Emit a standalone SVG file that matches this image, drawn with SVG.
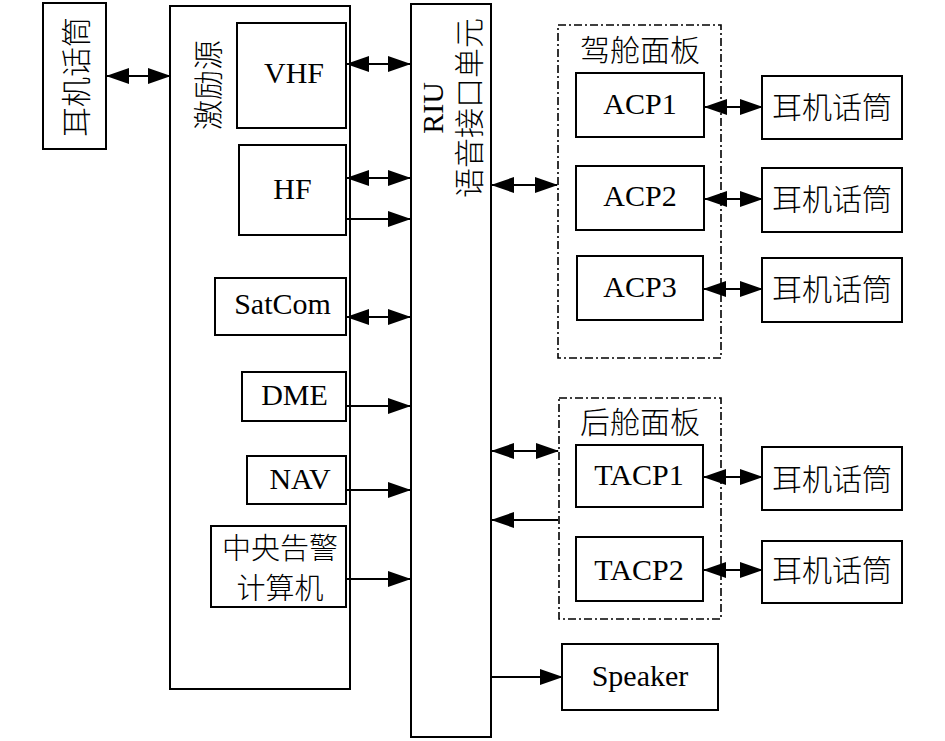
<svg xmlns="http://www.w3.org/2000/svg" width="945" height="741" viewBox="0 0 945 741">
<style>
rect{fill:#fff;stroke:#000;stroke-width:2}
.dd{fill:none;stroke:#000;stroke-width:1.6;stroke-dasharray:8 3 2 3}
text{font-family:"Liberation Serif","Noto Sans CJK SC",serif;font-size:30px;fill:#000;text-anchor:middle}
.cn{font-family:"Noto Sans CJK SC",sans-serif;font-weight:300;font-size:30px}
.c path{fill:none;stroke:#000;stroke-width:2}
</style>
<defs>
<marker id="ah" viewBox="0 0 23 16" refX="22" refY="8" markerWidth="23" markerHeight="16" orient="auto-start-reverse" markerUnits="userSpaceOnUse"><path d="M0,0 L23,8 L0,16 z" fill="#000"/></marker>
</defs>
<rect x="0" y="0" width="945" height="741" style="stroke:none"/>
<g id="hs0"><rect x="43" y="3" width="63" height="146"/><text class="cn" transform="translate(87,77) rotate(-90)">耳机话筒</text></g>
<g id="exciter"><rect x="170" y="6" width="180" height="683"/><text class="cn" transform="translate(219,85) rotate(-90)">激励源</text></g>
<g id="vhf"><rect x="237" y="23" width="109" height="105"/><text x="294" y="83">VHF</text></g>
<g id="hf"><rect x="239" y="145" width="107" height="90"/><text x="292.5" y="199">HF</text></g>
<g id="satcom"><rect x="215" y="278" width="131" height="57"/><text x="282.5" y="314">SatCom</text></g>
<g id="dme"><rect x="242" y="372" width="104" height="49"/><text x="294.5" y="405">DME</text></g>
<g id="nav"><rect x="247" y="456" width="99" height="48"/><text x="300" y="489">NAV</text></g>
<g id="caws"><rect x="211" y="526" width="135" height="81"/><text class="cn" x="280" y="559" style="font-size:29px">中央告警</text><text class="cn" x="280" y="599" style="font-size:29px">计算机</text></g>
<g id="riu"><rect x="411" y="4" width="80" height="733"/><text transform="translate(443,108) rotate(-90)">RIU</text><text class="cn" transform="translate(480,108) rotate(-90)">语音接口单元</text></g>
<g id="cockpit"><rect class="dd" x="558" y="25" width="163" height="333"/><text class="cn" x="640" y="61">驾舱面板</text></g>
<g id="acp1"><rect x="576" y="73" width="128" height="64"/><text x="640" y="114">ACP1</text></g>
<g id="acp2"><rect x="576" y="166" width="128" height="64"/><text x="640" y="206">ACP2</text></g>
<g id="acp3"><rect x="577" y="256" width="126" height="64"/><text x="640" y="297">ACP3</text></g>
<g id="hs1"><rect x="762" y="76" width="140" height="63"/><text class="cn" x="832" y="118">耳机话筒</text></g>
<g id="hs2"><rect x="762" y="168" width="140" height="64"/><text class="cn" x="832" y="210">耳机话筒</text></g>
<g id="hs3"><rect x="762" y="258" width="140" height="64"/><text class="cn" x="832" y="300">耳机话筒</text></g>
<g id="rear"><rect class="dd" x="559" y="398" width="162" height="221"/><text class="cn" x="640" y="433">后舱面板</text></g>
<g id="tacp1"><rect x="576" y="445" width="127" height="62"/><text x="639" y="485">TACP1</text></g>
<g id="tacp2"><rect x="576" y="537" width="127" height="64"/><text x="639" y="580">TACP2</text></g>
<g id="hs4"><rect x="762" y="447" width="140" height="63"/><text class="cn" x="832" y="490">耳机话筒</text></g>
<g id="hs5"><rect x="762" y="541" width="140" height="62"/><text class="cn" x="832" y="581">耳机话筒</text></g>
<g id="speaker"><rect x="562" y="644" width="156" height="66"/><text x="640" y="686">Speaker</text></g>
<g id="connectors" class="c">
<path d="M107,76 H170" marker-start="url(#ah)" marker-end="url(#ah)"/>
<path d="M347,64 H410" marker-start="url(#ah)" marker-end="url(#ah)"/>
<path d="M347,178 H410" marker-start="url(#ah)" marker-end="url(#ah)"/>
<path d="M347,219 H410" marker-end="url(#ah)"/>
<path d="M347,317 H410" marker-start="url(#ah)" marker-end="url(#ah)"/>
<path d="M347,406 H410" marker-end="url(#ah)"/>
<path d="M347,490 H410" marker-end="url(#ah)"/>
<path d="M347,579 H410" marker-end="url(#ah)"/>
<path d="M492,185 H557" marker-start="url(#ah)" marker-end="url(#ah)"/>
<path d="M705,107 H762" marker-start="url(#ah)" marker-end="url(#ah)"/>
<path d="M705,199 H762" marker-start="url(#ah)" marker-end="url(#ah)"/>
<path d="M704,289 H762" marker-start="url(#ah)" marker-end="url(#ah)"/>
<path d="M492,451 H558" marker-start="url(#ah)" marker-end="url(#ah)"/>
<path d="M558,520 H492" marker-end="url(#ah)"/>
<path d="M704,477 H762" marker-start="url(#ah)" marker-end="url(#ah)"/>
<path d="M704,570 H762" marker-start="url(#ah)" marker-end="url(#ah)"/>
<path d="M492,677 H562" marker-end="url(#ah)"/>
</g>
</svg>
